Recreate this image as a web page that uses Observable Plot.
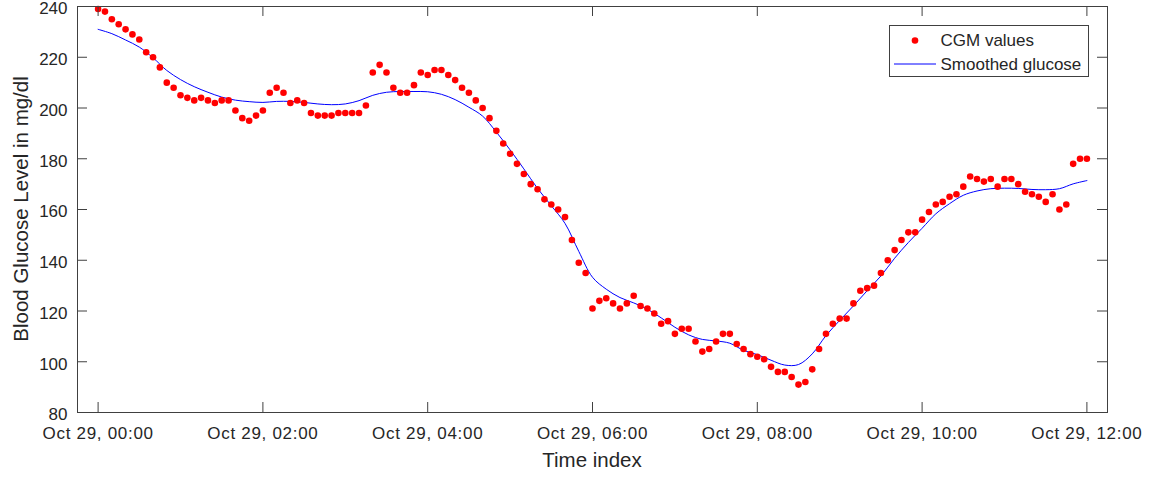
<!DOCTYPE html>
<html><head><meta charset="utf-8">
<script src="https://cdn.jsdelivr.net/npm/d3@7"></script>
<script src="https://cdn.jsdelivr.net/npm/@observablehq/plot@0.6"></script>
<style>
html,body{margin:0;padding:0;background:#fff;}
#chart svg{display:block;}
</style></head><body><div id="chart"></div>
<script>
// ---------- data ----------
const startISO = "2023-10-29T00:00:00Z";
const stepMinutes = 5;
const cgmValues = [
  239,238,235,233,231,229,227,222,220,216,210,208,   // 00:00 - 00:55
  205,204,203,204,203,202,203,203,199,196,195,197,   // 01:00 - 01:55
  199,206,208,206,202,203,202,198,197,197,197,198,   // 02:00 - 02:55
  198,198,198,201,214,217,214,208,206,206,209,214,   // 03:00 - 03:55
  213,215,215,213,211,208,206,203,200,196,191,186,   // 04:00 - 04:55
  182,178,174,170,168,164,162,160,157,148,139,135,   // 05:00 - 05:55
  121,124,125,123,121,123,126,122,121,119,115,116,   // 06:00 - 06:55
  111,113,113,108,104,105,108,111,111,107,105,103,   // 07:00 - 07:55
  102,101,98,96,96,94,91,92,97,105,111,115,          // 08:00 - 08:55
  117,117,123,128,129,130,135,140,144,148,151,151,   // 09:00 - 09:55
  156,159,162,163,165,166,169,173,172,171,172,169,   // 10:00 - 10:55
  172,172,170,167,166,165,163,166,160,162,178,180,   // 11:00 - 11:55
  180                                                // 12:00
];
const smoothMinutes = [
  0,10,20,30,40,50,60,70,80,90,100,110,120,130,140,150,160,170,180,190,200,210,220,230,
  240,250,260,270,280,290,300,310,320,330,340,350,360,370,380,390,400,410,420,430,440,450,460,470,
  480,490,500,510,520,530,540,550,560,570,580,590,600,610,620,630,640,650,660,670,680,690,700,710,720
];
const smoothValues = [
  231.0,229.3,226.8,224.0,219.8,214.8,211.2,208.4,206.2,204.3,203.1,202.5,202.2,202.6,202.6,202.2,201.6,201.3,201.6,202.9,205.0,206.2,206.5,206.5,
  206.4,205.4,203.3,200.3,196.8,190.5,183.5,176.0,168.3,161.5,154.5,143.5,133.3,128.6,125.3,123.2,120.7,117.3,113.6,110.6,108.8,108.2,107.3,104.5,
  102.8,100.6,98.7,98.9,103.1,110.3,116.3,122.0,128.0,133.8,140.8,147.0,152.6,158.3,162.3,165.6,167.3,168.2,168.4,168.3,167.9,167.8,168.2,170.1,171.4
];
const yTicks = [80,100,120,140,160,180,200,220,240];
const xTickHours = [0,2,4,6,8,10,12];
const legendLabels = ["CGM values","Smoothed glucose"];
const xLabel = "Time index";
const yLabel = "Blood Glucose Level in mg/dl";

// ---------- build ----------
const t0 = new Date(startISO).getTime();
const toDate = m => new Date(t0 + m * 60000);
const cgm = cgmValues.map((v, i) => ({time: toDate(i * stepMinutes), value: v}));
const smooth = smoothMinutes.map((m, i) => ({time: toDate(m), value: smoothValues[i]}));
const xTicks = xTickHours.map(h => toDate(h * 60));

const W = 1152, H = 477, mL = 77, mR = 45, mT = 6, mB = 65;
const innerH = H - mT - mB, innerW = W - mL - mR;
const axisColor = "#404040", textColor = "#262626";
const font = "'Liberation Sans', Arial, Helvetica, sans-serif";
const fmt = d3.utcFormat("%b %d, %H:%M");
const dotR = 3.3;

const plot = Plot.plot({
  width: W, height: H,
  marginLeft: mL, marginRight: mR, marginTop: mT, marginBottom: mB,
  style: {fontFamily: font, fontSize: "17px", color: textColor, background: "#fff", overflow: "visible"},
  x: {type: "utc", domain: [toDate(-15), toDate(735)]},
  y: {domain: [80, 240]},
  marks: [
    Plot.line(smooth, {x: "time", y: "value", stroke: "#0000ff", strokeWidth: 1, curve: "catmull-rom"}),
    Plot.dot(cgm, {x: "time", y: "value", r: dotR, fill: "#ff0000", stroke: "none"}),
    Plot.tickX(xTicks, {x: d => d, insetTop: innerH - 10, stroke: axisColor}),
    Plot.tickX(xTicks, {x: d => d, insetBottom: innerH - 10, stroke: axisColor}),
    Plot.tickY(yTicks, {y: d => d, insetRight: innerW - 10, stroke: axisColor}),
    Plot.tickY(yTicks, {y: d => d, insetLeft: innerW - 10, stroke: axisColor}),
    Plot.frame({stroke: axisColor}),
    Plot.axisX({ticks: xTicks, tickSize: 0, tickPadding: 14.5, tickFormat: fmt, label: null, fill: textColor}),
    Plot.axisY({ticks: yTicks, tickSize: 0, tickPadding: 10, label: null, dy: 2.5, fill: textColor})
  ]
});
document.getElementById("chart").appendChild(plot);

const svg = d3.select(plot);
svg.selectAll('g[aria-label="x-axis tick label"] text').attr("letter-spacing", "0.7px");

// axis labels
svg.append("text")
  .attr("x", mL + innerW / 2).attr("y", H - 10)
  .attr("text-anchor", "middle")
  .attr("font-family", font).attr("font-size", 20.5).attr("fill", textColor)
  .text(xLabel);
svg.append("text")
  .attr("transform", `translate(20,${mT + innerH / 2}) rotate(-90)`)
  .attr("text-anchor", "middle").attr("dominant-baseline", "central")
  .attr("font-family", font).attr("font-size", 20.5).attr("fill", textColor)
  .text(yLabel);

// legend
const lgRight = W - mR - 19, lgTop = mT + 19, lgW = 199, lgH = 51;
const lgLeft = lgRight - lgW;
const lg = svg.append("g").attr("font-family", font).attr("font-size", 17).attr("fill", textColor);
lg.append("rect").attr("x", lgLeft + 0.5).attr("y", lgTop + 0.5)
  .attr("width", lgW).attr("height", lgH).attr("fill", "#fff").attr("stroke", axisColor);
const row1 = lgTop + 15.5, row2 = lgTop + 39;
lg.append("circle").attr("cx", lgLeft + 26).attr("cy", row1).attr("r", dotR).attr("fill", "#ff0000");
lg.append("line").attr("x1", lgLeft + 5).attr("x2", lgLeft + 47)
  .attr("y1", row2).attr("y2", row2).attr("stroke", "#0000ff").attr("stroke-width", 1);
lg.append("text").attr("x", lgLeft + 51.5).attr("y", row1).attr("text-anchor", "start")
  .attr("dominant-baseline", "central").text(legendLabels[0]);
lg.append("text").attr("x", lgLeft + 51.5).attr("y", row2).attr("text-anchor", "start")
  .attr("dominant-baseline", "central").text(legendLabels[1]);
</script></body></html>
